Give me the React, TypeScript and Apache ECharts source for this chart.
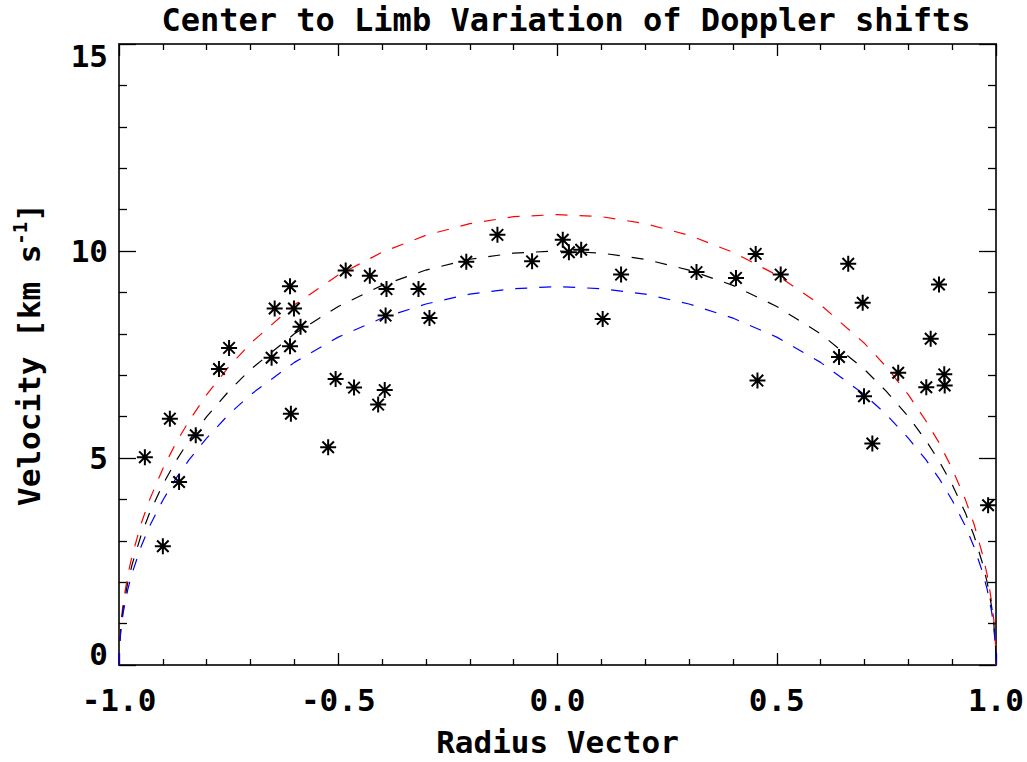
import React, { useEffect, useRef } from "react";
import * as echarts from "echarts";

const TITLE = "Center to Limb Variation of Doppler shifts";
const X_NAME = "Radius Vector";

// Observed Doppler velocities (radius vector, km/s)
const OBS_R = [-0.941, -0.9, -0.884, -0.863, -0.825, -0.772, -0.749, -0.652, -0.645, -0.61, -0.601, -0.586, -0.61, -0.608, -0.523, -0.506, -0.483, -0.464, -0.428, -0.409, -0.39, -0.394, -0.392, -0.317, -0.292, -0.208, -0.137, -0.058, 0.012, 0.026, 0.054, 0.103, 0.145, 0.317, 0.407, 0.452, 0.509, 0.456, 0.663, 0.696, 0.642, 0.699, 0.718, 0.777, 0.841, 0.851, 0.87, 0.882, 0.883, 0.982];
const OBS_V = [5.02, 2.87, 5.95, 4.42, 5.55, 7.15, 7.66, 7.42, 8.61, 9.15, 8.61, 8.17, 7.7, 6.07, 5.26, 6.91, 9.53, 6.7, 9.4, 6.29, 9.08, 6.64, 8.44, 9.08, 8.38, 9.74, 10.39, 9.75, 10.27, 9.97, 10.03, 8.36, 9.43, 9.49, 9.35, 9.93, 9.43, 6.87, 9.69, 8.75, 7.44, 6.49, 5.35, 7.06, 6.71, 7.88, 9.19, 7.02, 6.75, 3.86];

// Model curves
const CURVE_R = [-1, -0.999, -0.995, -0.99, -0.98, -0.97, -0.95, -0.93, -0.9, -0.87, -0.84, -0.8, -0.75, -0.7, -0.6, -0.5, -0.4, -0.3, -0.2, -0.1, 0, 0.1, 0.2, 0.3, 0.4, 0.5, 0.6, 0.7, 0.75, 0.8, 0.84, 0.87, 0.9, 0.93, 0.95, 0.97, 0.98, 0.99, 0.995, 0.999, 1];
const CURVE_UPPER = [0, 0.49, 1.09, 1.53, 2.17, 2.64, 3.4, 4.0, 4.74, 5.37, 5.9, 6.53, 7.2, 7.77, 8.7, 9.42, 9.97, 10.38, 10.66, 10.83, 10.88, 10.83, 10.66, 10.38, 9.97, 9.42, 8.7, 7.77, 7.2, 6.53, 5.9, 5.37, 4.74, 4.0, 3.4, 2.64, 2.17, 1.53, 1.09, 0.49, 0];
const CURVE_MID = [0, 0.45, 1.0, 1.41, 1.99, 2.43, 3.12, 3.68, 4.36, 4.93, 5.43, 6.0, 6.61, 7.14, 8.0, 8.66, 9.17, 9.54, 9.8, 9.95, 10.0, 9.95, 9.8, 9.54, 9.17, 8.66, 8.0, 7.14, 6.61, 6.0, 5.43, 4.93, 4.36, 3.68, 3.12, 2.43, 1.99, 1.41, 1.0, 0.45, 0];
const CURVE_LOWER = [0, 0.41, 0.91, 1.29, 1.82, 2.22, 2.85, 3.36, 3.98, 4.51, 4.96, 5.48, 6.05, 6.53, 7.31, 7.92, 8.38, 8.72, 8.96, 9.09, 9.14, 9.09, 8.96, 8.72, 8.38, 7.92, 7.31, 6.53, 6.05, 5.48, 4.96, 4.51, 3.98, 3.36, 2.85, 2.22, 1.82, 1.29, 0.91, 0.41, 0];

const FONT = "DejaVu Sans Mono";
const AXIS_COLOR = "#333";

const ASTERISK = "path://M0,-1L0,1M-1,0L1,0M-0.72,-0.72L0.72,0.72M-0.72,0.72L0.72,-0.72";

export default function App() {
  const ref = useRef<HTMLDivElement>(null);
  useEffect(() => {
    if (!ref.current) return;
    const chart = echarts.init(ref.current, null, { renderer: "svg" });
    const pair = (xs: number[], ys: number[]) => xs.map((x, i) => [x, ys[i]]);
    const curve = (ys: number[], color: string) => ({
      type: "line",
      data: pair(CURVE_R, ys),
      showSymbol: false,
      symbol: "none",
      lineStyle: { color, width: 1.2, type: [12, 12] },
      z: 2,
    });
    const labelFont = { fontFamily: FONT, fontWeight: "bold", fontSize: 31, color: "#000" };
    const xCommon = {
      type: "value",
      min: -1,
      max: 1,
      interval: 0.5,
      splitLine: { show: false },
      axisLine: { show: true, onZero: false, lineStyle: { color: AXIS_COLOR, width: 2 } },
      axisTick: { show: true, inside: true, length: 12, lineStyle: { color: "#000", width: 1.3 } },
      minorTick: { show: true, splitNumber: 5, length: 6, lineStyle: { color: "#000", width: 1.3 } },
    };
    const yCommon = {
      type: "value",
      min: 0,
      max: 15,
      interval: 5,
      splitLine: { show: false },
      axisLine: { show: true, onZero: false, lineStyle: { color: AXIS_COLOR, width: 2 } },
      axisTick: { show: true, inside: true, length: 17, lineStyle: { color: "#000", width: 1.3 } },
      minorTick: { show: true, splitNumber: 5, length: 8, lineStyle: { color: "#000", width: 1.3 } },
    };
    chart.setOption({
      animation: false,
      backgroundColor: "#fff",
      grid: { left: 119, right: 30, top: 44, bottom: 96, containLabel: false },
      graphic: [
        {
          type: "text",
          x: 566,
          y: 4,
          style: {
            text: TITLE,
            fontFamily: FONT,
            fontWeight: "bold",
            fontSize: 32,
            fill: "#000",
            textAlign: "center",
            textVerticalAlign: "top",
          },
        },
      ],
      xAxis: [
        {
          ...xCommon,
          position: "bottom",
          name: X_NAME,
          nameLocation: "middle",
          nameGap: 61,
          nameTextStyle: { ...labelFont },
          axisLabel: {
            show: true,
            margin: 19,
            ...labelFont,
            formatter: (v: number) => v.toFixed(1),
          },
        },
        { ...xCommon, position: "top", axisLabel: { show: false } },
      ],
      yAxis: [
        {
          ...yCommon,
          position: "left",
          name: "Velocity [km s{sup|-1}]",
          nameLocation: "middle",
          nameGap: 72,
          nameRotate: 90,
          nameTextStyle: {
            fontFamily: FONT,
            fontWeight: "bold",
            fontSize: 31,
            color: "#000",
            rich: {
              sup: {
                fontFamily: FONT,
                fontWeight: "bold",
                fontSize: 19,
                color: "#000",
                verticalAlign: "top",
                padding: [0, 0, 18, 0],
              },
            },
          },
          axisLabel: {
            show: true,
            margin: 11,
            ...labelFont,
            formatter: (v: number) =>
              v === 0 ? "{lo|0}" : v === 15 ? "{hi|15}" : String(v),
            rich: {
              lo: { ...labelFont, padding: [0, 0, 22, 0] },
              hi: { ...labelFont, padding: [24, 0, 0, 0] },
            },
          },
        },
        { ...yCommon, position: "right", axisLabel: { show: false } },
      ],
      series: [
        curve(CURVE_UPPER, "#ff0000"),
        curve(CURVE_MID, "#000000"),
        curve(CURVE_LOWER, "#0000ff"),
        {
          type: "scatter",
          data: pair(OBS_R, OBS_V),
          symbol: ASTERISK,
          symbolSize: 16,
          itemStyle: { color: "#000", borderColor: "#000", borderWidth: 2, opacity: 1 },
          z: 3,
        },
      ],
    });
    return () => chart.dispose();
  }, []);
  return (
    <div
      ref={ref}
      style={{ position: "absolute", left: 0, top: 0, width: 1027, height: 762 }}
    />
  );
}
